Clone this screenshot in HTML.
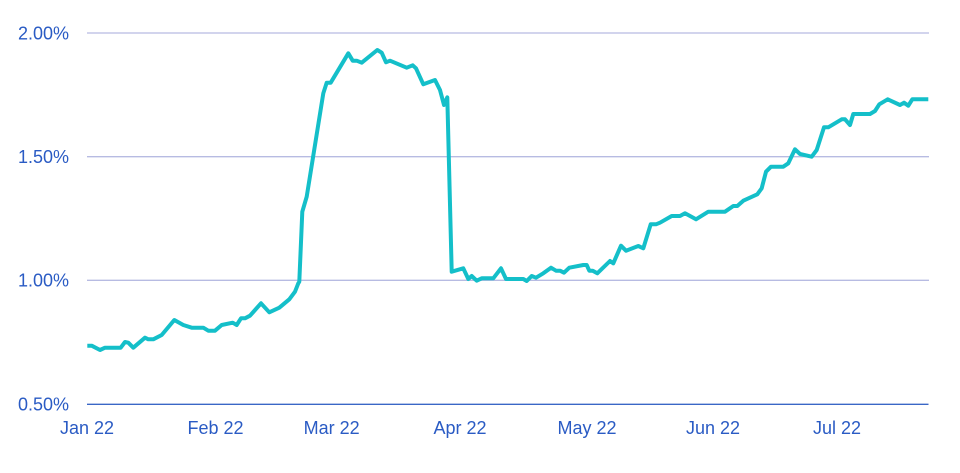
<!DOCTYPE html>
<html><head><meta charset="utf-8"><style>
html,body{margin:0;padding:0;background:#fff;}
svg{display:block;}
text{font-family:"Liberation Sans",sans-serif;font-size:18px;fill:#2a5bc4;}
</style></head><body>
<svg width="960" height="473" viewBox="0 0 960 473">
<line x1="87" y1="33" x2="929" y2="33" stroke="#b7bbe2" stroke-width="1.3"/>
<line x1="87" y1="156.7" x2="929" y2="156.7" stroke="#b7bbe2" stroke-width="1.3"/>
<line x1="87" y1="280.3" x2="929" y2="280.3" stroke="#b7bbe2" stroke-width="1.3"/>
<line x1="87" y1="404.3" x2="928.5" y2="404.3" stroke="#3a67c6" stroke-width="1.3"/>
<text x="69" y="39.5" text-anchor="end">2.00%</text>
<text x="69" y="163" text-anchor="end">1.50%</text>
<text x="69" y="286.6" text-anchor="end">1.00%</text>
<text x="69" y="410.6" text-anchor="end">0.50%</text>
<text x="87" y="434" text-anchor="middle">Jan 22</text>
<text x="215.5" y="434" text-anchor="middle">Feb 22</text>
<text x="331.7" y="434" text-anchor="middle">Mar 22</text>
<text x="460" y="434" text-anchor="middle">Apr 22</text>
<text x="587" y="434" text-anchor="middle">May 22</text>
<text x="713" y="434" text-anchor="middle">Jun 22</text>
<text x="837" y="434" text-anchor="middle">Jul 22</text>
<polyline fill="none" stroke="#14bfc9" stroke-width="4" stroke-linejoin="round" stroke-linecap="butt" points="
87.3,345.7 91.7,345.7 100,350 105,347.7 120.7,347.7 125,342 128.3,342.7 133.3,347.7 145,337.7 148.3,339.3 153.3,339.3 161.7,335 174.3,320 183.3,325 191.7,327.7 203.3,327.7 208.3,330.7 215,330.7 221.7,325 232.7,322.7 236.7,325 241,318.3 245,318.3 250,315.7 261,303.3 269.3,312.3 279.3,307.7 289.3,299.3 295,291.7 298.3,283.3
299.3,281.7 302.3,211.7 306.7,196.7 323.3,93.3 326.7,82.7 330.7,82.7 337.3,71.7 348.3,53.3 352.7,60.7 356.7,60.7 361.7,62.7 377.3,50 381.7,52.7 386,62.3 390,60.7 406.7,67.7 412.7,65.3 416,68.3 423.3,84.3 435,80 440,90 444,105 447.3,97.3
451.7,271.7 463.3,268.3 468.3,279 471.7,276 476.7,280.7 481.7,278.3 493.3,278.3 501,268.3 506,279 523.3,279 526.7,281 531.7,276 536,277.7 543.3,273.3 551,267.7 556,270.7 560,270.7 564,272.7 569.3,267.7 583.3,265 586.7,265 589.3,270.7 592.7,270.7 597.3,273.3 610,261 613.3,263.3 621,245.7 626,250.7 638.3,246 643.3,248.3 650.7,224.3 656,224.3
660,222.7 671.7,216 680,216 685,213.3 696,219.3 708.3,211.7 725,211.7 733.3,206 737.3,206 743.3,200.7 757.3,194.3 761.7,188.3 766,171.7 771,166.7 783.3,166.7 788.3,163.3 795,149.3 800,154 811.7,156.7 816.7,150 824,127.3 828.3,127.3 841.7,119.3 845,119.3 850,125 853.3,114 870,114 875,111 879.3,104.3 887.7,99.3 900,105 904,102.7 908.3,105.7 912.3,99.3 928.3,99.3"/>
</svg>
</body></html>
